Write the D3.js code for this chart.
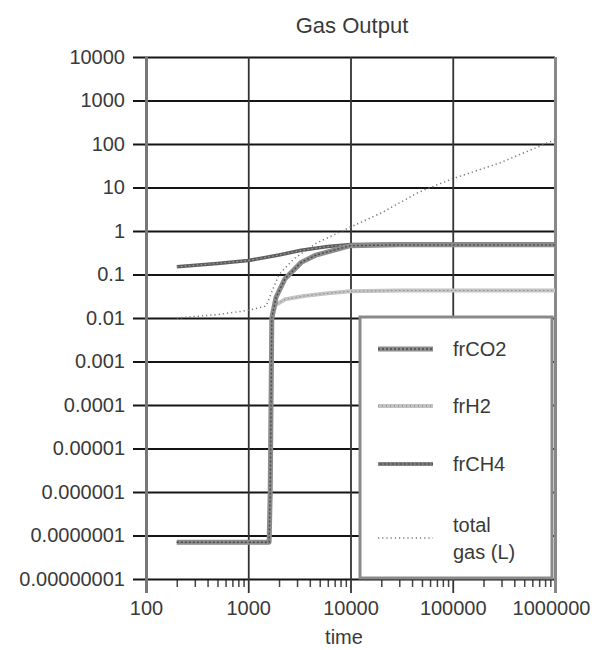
<!DOCTYPE html>
<meta charset="utf-8">
<html>
<head>
<style>
  body { margin: 0; background: #fff; }
  text { font-family: "Liberation Sans", Arial, sans-serif; fill: #3a3a3a; }
</style>
</head>
<body>
<script src="https://d3js.org/d3.v7.min.js"></script>
<svg width="592" height="650"></svg>
<script>
// tick labels
var xTickValues = [100, 1000, 10000, 100000, 1000000];
var xTickLabels = ["100", "1000", "10000", "100000", "1000000"];
var yTickValues = [1e4, 1e3, 1e2, 10, 1, 0.1, 0.01, 1e-3, 1e-4, 1e-5, 1e-6, 1e-7, 1e-8];
var yTickLabels = ["10000", "1000", "100", "10", "1", "0.1", "0.01", "0.001", "0.0001",
                   "0.00001", "0.000001", "0.0000001", "0.00000001"];

// series
var co2Time = [200, 1000, 1600, 1640, 1670, 1700, 1870, 2290, 3300, 4600, 6500, 10000, 30000, 1000000];
var co2Frac = [7e-8, 7e-8, 7e-8, 1e-6, 1e-4, 0.01, 0.03, 0.08, 0.19, 0.28, 0.35, 0.46, 0.48, 0.48];

var h2Time = [200, 1000, 1600, 1640, 1670, 1700, 1850, 2300, 3500, 6000, 10000, 30000, 1000000];
var h2Frac = [7e-8, 7e-8, 7e-8, 1e-6, 1e-4, 0.01, 0.02, 0.027, 0.032, 0.037, 0.041, 0.043, 0.043];

var ch4Time = [200, 500, 1000, 2000, 3300, 6000, 10000, 30000, 1000000];
var ch4Frac = [0.15, 0.18, 0.21, 0.28, 0.36, 0.44, 0.49, 0.5, 0.5];

var totTime = [200, 500, 1000, 1500, 1700, 2000, 2800, 4600, 9000, 20000, 46000, 100000, 290000, 1000000];
var totGas  = [0.01, 0.012, 0.015, 0.019, 0.04, 0.1, 0.23, 0.52, 1.1, 2.6, 7.7, 16, 37, 125];

var legendNames = ["frCO2", "frH2", "frCH4", "total gas (L)"];

var svg = d3.select("svg");
var plotLeft = 146, plotRight = 555, plotTop = 57, plotBottom = 579;

var x = d3.scaleLog().domain([100, 1000000]).range([plotLeft, plotRight]);
var y = d3.scaleLog().domain([1e-8, 1e4]).range([plotBottom, plotTop]);

// title
svg.append("text")
    .attr("x", 352).attr("y", 33)
    .attr("text-anchor", "middle")
    .attr("font-size", "22px")
    .text("Gas Output");

// minor ticks (grey band on the left, short ticks under the bottom)
svg.append("g")
    .attr("transform", "translate(" + (plotLeft - 6) + ",0)")
    .call(d3.axisRight(y).tickValues(y.ticks().filter(function (d) {
        return yTickValues.indexOf(d) < 0;
    })).tickSize(10).tickFormat(""))
    .call(function (g) {
        g.select(".domain").remove();
        g.selectAll("line").attr("stroke", "#555").attr("stroke-width", 1.6);
    });

svg.append("g")
    .attr("transform", "translate(0," + plotBottom + ")")
    .call(d3.axisBottom(x).tickValues(x.ticks().filter(function (d) {
        return xTickValues.indexOf(d) < 0;
    })).tickSize(8).tickFormat(""))
    .call(function (g) {
        g.select(".domain").remove();
        g.selectAll("line").attr("stroke", "#444").attr("stroke-width", 1.5);
    });

// horizontal grid
svg.append("g")
    .attr("transform", "translate(133,0)")
    .call(d3.axisRight(y).tickValues(yTickValues).tickSize(plotRight - 133).tickFormat(""))
    .call(function (g) {
        g.select(".domain").remove();
        g.selectAll("line").attr("stroke", "#151515").attr("stroke-width", 2);
    });

// vertical grid
svg.append("g")
    .attr("transform", "translate(0," + plotTop + ")")
    .call(d3.axisBottom(x).tickValues(xTickValues).tickSize(593 - plotTop).tickFormat(""))
    .call(function (g) {
        g.select(".domain").remove();
        g.selectAll("line").attr("stroke", "#333").attr("stroke-width", 1.8);
        g.selectAll(".tick:first-of-type line").attr("stroke", "#777").attr("stroke-width", 3);
        g.selectAll(".tick:last-of-type line").attr("stroke", "#888").attr("stroke-width", 3);
    });

// axis labels
svg.append("g")
    .attr("transform", "translate(133,0)")
    .call(d3.axisLeft(y).tickValues(yTickValues).tickSize(0).tickPadding(8)
        .tickFormat(function (d, i) { return yTickLabels[i]; }))
    .call(function (g) {
        g.select(".domain").remove();
        g.selectAll("text").attr("font-size", "20px").attr("font-family", null).attr("fill", "#3a3a3a");
    });

svg.append("g")
    .attr("transform", "translate(0,593)")
    .call(d3.axisBottom(x).tickValues(xTickValues).tickSize(0).tickPadding(8)
        .tickFormat(function (d, i) { return xTickLabels[i]; }))
    .call(function (g) {
        g.select(".domain").remove();
        g.selectAll("text").attr("font-size", "20px").attr("font-family", null).attr("fill", "#3a3a3a");
        g.selectAll(".tick:last-of-type text").attr("dx", "-4");
    });

svg.append("text")
    .attr("x", 344).attr("y", 644)
    .attr("text-anchor", "middle")
    .attr("font-size", "20px")
    .text("time");

// series
var line = d3.line()
    .x(function (d) { return x(d[0]); })
    .y(function (d) { return y(d[1]); });

function pairs(t, v) { return t.map(function (d, i) { return [d, v[i]]; }); }

var styles = [
    { base: "#8c8c8c", bw: 5, over: "#4a4a4a", ow: 1.4, dash: "2,2" },
    { base: "#c4c4c4", bw: 4, over: "#777", ow: 1, dash: "1,3" },
    { base: "#5e5e5e", bw: 3.5, over: "#aaa", ow: 1, dash: "1.5,2.5" },
    { base: null, bw: 0, over: "#777", ow: 1.5, dash: "1.2,3" }
];

var seriesData = [pairs(totTime, totGas), pairs(h2Time, h2Frac), pairs(ch4Time, ch4Frac), pairs(co2Time, co2Frac)];
var seriesStyle = [styles[3], styles[1], styles[2], styles[0]];

var g = svg.append("g").attr("fill", "none");
seriesData.forEach(function (data, i) {
    var s = seriesStyle[i];
    if (s.base) {
        g.append("path").datum(data).attr("d", line)
            .attr("stroke", s.base).attr("stroke-width", s.bw)
            .attr("stroke-linejoin", "round");
    }
    g.append("path").datum(data).attr("d", line)
        .attr("stroke", s.over).attr("stroke-width", s.ow)
        .attr("stroke-dasharray", s.dash);
});

// legend
var legend = svg.append("g");
legend.append("rect")
    .attr("x", 360).attr("y", 317).attr("width", 192).attr("height", 261)
    .attr("fill", "#fff").attr("stroke", "#8a8a8a").attr("stroke-width", 3);

var rowY = [349, 406, 464, 538];
legendNames.forEach(function (name, i) {
    var s = styles[i];
    if (s.base) {
        legend.append("line")
            .attr("x1", 378).attr("x2", 433).attr("y1", rowY[i]).attr("y2", rowY[i])
            .attr("stroke", s.base).attr("stroke-width", s.bw);
    }
    legend.append("line")
        .attr("x1", 378).attr("x2", 433).attr("y1", rowY[i]).attr("y2", rowY[i])
        .attr("stroke", s.over).attr("stroke-width", s.ow).attr("stroke-dasharray", s.dash);
    if (i < 3) {
        legend.append("text")
            .attr("x", 453).attr("y", rowY[i] + 7)
            .attr("font-size", "20px")
            .text(name);
    } else {
        legend.append("text").attr("x", 453).attr("y", 532).attr("font-size", "20px").text("total");
        legend.append("text").attr("x", 453).attr("y", 559).attr("font-size", "20px").text("gas (L)");
    }
});
</script>
</body>
</html>
